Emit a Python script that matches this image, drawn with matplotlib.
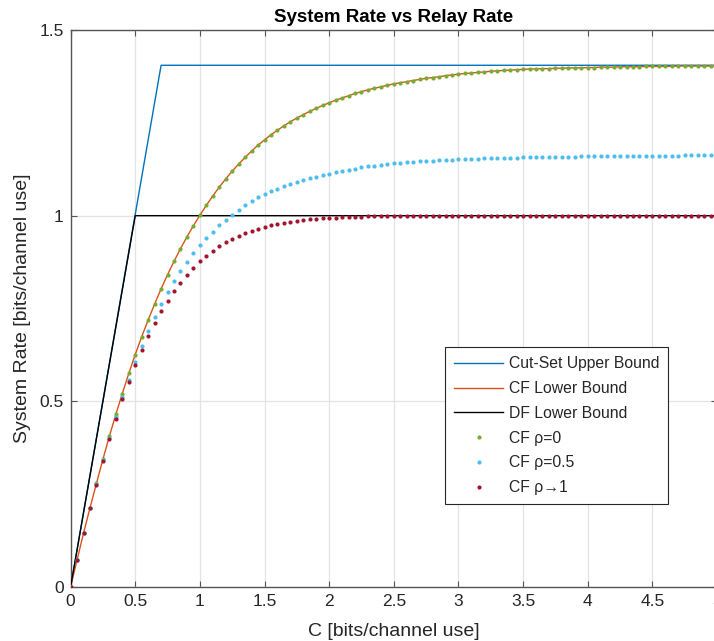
import matplotlib
matplotlib.use('Agg')
import matplotlib.pyplot as plt
from matplotlib.lines import Line2D

# ---------------- data ----------------
c_values = [
    0.00, 0.05, 0.10, 0.15, 0.20, 0.25, 0.30, 0.35, 0.40, 0.45,
    0.50, 0.55, 0.60, 0.65, 0.70, 0.75, 0.80, 0.85, 0.90, 0.95,
    1.00, 1.05, 1.10, 1.15, 1.20, 1.25, 1.30, 1.35, 1.40, 1.45,
    1.50, 1.55, 1.60, 1.65, 1.70, 1.75, 1.80, 1.85, 1.90, 1.95,
    2.00, 2.05, 2.10, 2.15, 2.20, 2.25, 2.30, 2.35, 2.40, 2.45,
    2.50, 2.55, 2.60, 2.65, 2.70, 2.75, 2.80, 2.85, 2.90, 2.95,
    3.00, 3.05, 3.10, 3.15, 3.20, 3.25, 3.30, 3.35, 3.40, 3.45,
    3.50, 3.55, 3.60, 3.65, 3.70, 3.75, 3.80, 3.85, 3.90, 3.95,
    4.00, 4.05, 4.10, 4.15, 4.20, 4.25, 4.30, 4.35, 4.40, 4.45,
    4.50, 4.55, 4.60, 4.65, 4.70, 4.75, 4.80, 4.85, 4.90, 4.95,
    5.00]

cf_rho0 = [
    0.000, 0.073, 0.145, 0.213, 0.279, 0.344, 0.406, 0.465, 0.521, 0.575,
    0.626, 0.674, 0.719, 0.762, 0.803, 0.841, 0.877, 0.911, 0.943, 0.973,
    1.001, 1.028, 1.053, 1.077, 1.099, 1.120, 1.139, 1.157, 1.174, 1.190,
    1.204, 1.218, 1.230, 1.242, 1.253, 1.263, 1.272, 1.281, 1.289, 1.297,
    1.304, 1.311, 1.317, 1.323, 1.329, 1.334, 1.339, 1.343, 1.347, 1.351,
    1.355, 1.358, 1.361, 1.364, 1.367, 1.370, 1.372, 1.374, 1.377, 1.379,
    1.381, 1.383, 1.384, 1.386, 1.387, 1.389, 1.390, 1.391, 1.392, 1.393,
    1.394, 1.395, 1.395, 1.396, 1.396, 1.397, 1.397, 1.398, 1.398, 1.398,
    1.399, 1.399, 1.400, 1.400, 1.400, 1.401, 1.401, 1.401, 1.401, 1.402,
    1.402, 1.402, 1.402, 1.402, 1.403, 1.403, 1.403, 1.403, 1.403, 1.403,
    1.404]

cf_lower = cf_rho0  # CF lower bound curve coincides with rho=0

cf_rho05 = [
    0.000, 0.073, 0.145, 0.212, 0.277, 0.341, 0.402, 0.459, 0.511, 0.558,
    0.605, 0.649, 0.689, 0.726, 0.761, 0.794, 0.824, 0.851, 0.876, 0.899,
    0.920, 0.939, 0.957, 0.974, 0.989, 1.003, 1.016, 1.028, 1.039, 1.049,
    1.058, 1.066, 1.073, 1.080, 1.086, 1.091, 1.096, 1.101, 1.105, 1.109,
    1.113, 1.117, 1.121, 1.124, 1.127, 1.130, 1.133, 1.135, 1.137, 1.139,
    1.141, 1.142, 1.144, 1.145, 1.146, 1.147, 1.148, 1.149, 1.150, 1.151,
    1.152, 1.152, 1.153, 1.153, 1.154, 1.154, 1.155, 1.155, 1.156, 1.156,
    1.157, 1.157, 1.157, 1.158, 1.158, 1.158, 1.159, 1.159, 1.159, 1.160,
    1.160, 1.160, 1.160, 1.160, 1.161, 1.161, 1.161, 1.161, 1.161, 1.162,
    1.162, 1.162, 1.162, 1.162, 1.162, 1.163, 1.163, 1.163, 1.163, 1.163,
    1.163]

cf_rho1 = [
    0.000, 0.073, 0.145, 0.212, 0.276, 0.339, 0.399, 0.453, 0.505, 0.553,
    0.598, 0.638, 0.676, 0.711, 0.743, 0.771, 0.797, 0.820, 0.841, 0.860,
    0.877, 0.892, 0.906, 0.918, 0.928, 0.937, 0.945, 0.952, 0.959, 0.964,
    0.969, 0.974, 0.977, 0.981, 0.984, 0.986, 0.988, 0.990, 0.992, 0.993,
    0.994, 0.995, 0.996, 0.996, 0.997, 0.997, 0.998, 0.998, 0.998, 0.999,
    0.999, 0.999, 0.999, 0.999, 0.999, 1.000, 1.000, 1.000, 1.000, 1.000,
    1.000, 1.000, 1.000, 1.000, 1.000, 1.000, 1.000, 1.000, 1.000, 1.000,
    1.000, 1.000, 1.000, 1.000, 1.000, 1.000, 1.000, 1.000, 1.000, 1.000,
    1.000, 1.000, 1.000, 1.000, 1.000, 1.000, 1.000, 1.000, 1.000, 1.000,
    1.000, 1.000, 1.000, 1.000, 1.000, 1.000, 1.000, 1.000, 1.000, 1.000,
    1.000]

cutset_c = [0.0, 0.7, 5.0]
cutset_rate = [0.0, 1.405, 1.405]
df_c = [0.0, 0.5, 5.0]
df_rate = [0.0, 1.0, 1.0]

x_ticks = [0, 0.5, 1, 1.5, 2, 2.5, 3, 3.5, 4, 4.5, 5]
x_tick_labels = ['0', '0.5', '1', '1.5', '2', '2.5', '3', '3.5', '4', '4.5', '5']
y_ticks = [0, 0.5, 1, 1.5]
y_tick_labels = ['0', '0.5', '1', '1.5']

legend_labels = ['Cut-Set Upper Bound', 'CF Lower Bound', 'DF Lower Bound',
                 'CF ρ=0', 'CF ρ=0.5', 'CF ρ→1']

# ---------------- style ----------------
plt.rcParams['font.family'] = ['Liberation Sans', 'DejaVu Sans']

C_BLUE = '#0072BD'
C_ORANGE = '#D95319'
C_GREEN = '#77AC30'
C_CYAN = '#4DBEEE'
C_RED = '#A2142F'
AX_COL = '#262626'

fig = plt.figure(figsize=(7.14, 6.41), dpi=100)
W, H = 714, 641
x0, x1 = 70.6, 717.0
ytop, ybot = 30.0, 587.0
ax = fig.add_axes([x0 / W, (H - ybot) / H, (x1 - x0) / W, (ybot - ytop) / H])

lw = 1.0
ax.plot(cutset_c, cutset_rate, color=C_BLUE, lw=lw, zorder=3)
ax.plot(c_values, cf_lower, color=C_ORANGE, lw=lw, zorder=3)
ax.plot(df_c, df_rate, color='black', lw=lw, zorder=3)
ms = 3.0
ax.plot(c_values, cf_rho0, ls='none', marker='o', ms=ms, mew=0, color=C_GREEN, zorder=4)
ax.plot(c_values, cf_rho05, ls='none', marker='o', ms=ms, mew=0, color=C_CYAN, zorder=4)
ax.plot(c_values, cf_rho1, ls='none', marker='o', ms=ms, mew=0, color=C_RED, zorder=4)

ax.set_xlim(0, 5)
ax.set_ylim(0, 1.5)
ax.set_xticks(x_ticks)
ax.set_xticklabels(x_tick_labels)
ax.set_yticks(y_ticks)
ax.set_yticklabels(y_tick_labels)

ax.grid(True, color='#e3e3e3', lw=0.9, zorder=0)
ax.set_axisbelow(True)
for s in ax.spines.values():
    s.set_color('#555555')
    s.set_linewidth(1.0)
ax.tick_params(direction='in', length=4.5, width=0.8, color='#555555',
               top=True, right=True, labelsize=12.5, labelcolor=AX_COL, pad=5)

ax.set_title('System Rate vs Relay Rate', fontsize=13.5, fontweight='bold',
             color='black', pad=6)
ax.set_xlabel('C [bits/channel use]', fontsize=14, color=AX_COL)
ax.set_ylabel('System Rate [bits/channel use]', fontsize=14, color=AX_COL)
ax.xaxis.set_label_coords((394 - x0) / (x1 - x0), (ybot - 623) / (ybot - ytop))
ax.yaxis.set_label_coords((31 - x0) / (x1 - x0), 0.5)

handles = [
    Line2D([], [], color=C_BLUE, lw=lw),
    Line2D([], [], color=C_ORANGE, lw=lw),
    Line2D([], [], color='black', lw=lw),
    Line2D([], [], ls='none', marker='o', ms=ms, mew=0, color=C_GREEN),
    Line2D([], [], ls='none', marker='o', ms=ms, mew=0, color=C_CYAN),
    Line2D([], [], ls='none', marker='o', ms=ms, mew=0, color=C_RED),
]
leg = ax.legend(handles, legend_labels, loc='upper left',
                bbox_to_anchor=((445 - x0) / (x1 - x0), (ybot - 347) / (ybot - ytop)),
                borderaxespad=0, fontsize=11.3, frameon=True, fancybox=False,
                framealpha=1, edgecolor=AX_COL, handlelength=3.1,
                handletextpad=0.35, labelspacing=0.62, borderpad=0.6,
                numpoints=1)
leg.get_frame().set_linewidth(0.8)
for t in leg.get_texts():
    t.set_color(AX_COL)

fig.savefig('out.png', dpi=100)
